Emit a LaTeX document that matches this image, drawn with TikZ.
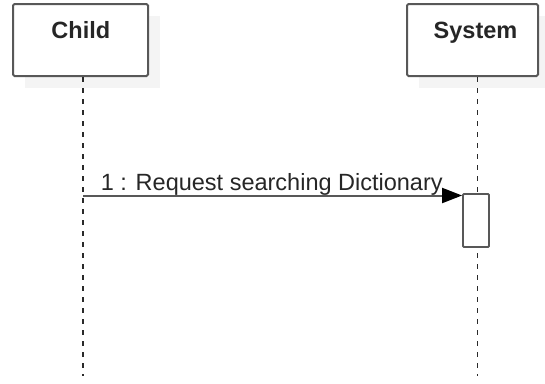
\documentclass[tikz,border=0pt]{standalone}
\usepackage{fontspec}
\setmainfont{Liberation Sans}
\usetikzlibrary{arrows.meta}
\definecolor{edge}{HTML}{585858}
\definecolor{shade}{HTML}{F4F4F4}
\definecolor{lifeink}{HTML}{2A2A2A}
\begin{document}
\begin{tikzpicture}[x=1pt,y=-1pt,
  actorbox/.style={draw=edge,line width=2pt,fill=white,rounded corners=1.5pt,
    minimum height=72pt,inner sep=0pt},
  actorshadow/.style={fill=shade,draw=none},
  actorname/.style={anchor=base,inner sep=0pt,font=\fontsize{23.5}{28}\selectfont\bfseries,text=black!85},
  lifeline/.style={draw=lifeink,line width=1.8pt,dash pattern=on 5pt off 6pt},
  actbar/.style={draw=edge,line width=1.8pt,fill=white,rounded corners=1pt,
    minimum width=26pt,minimum height=53pt,inner sep=0pt},
  msgline/.style={draw=edge,line width=2pt,-{Triangle[length=20pt,width=15pt,fill=black,color=black]}},
  msgtext/.style={anchor=base west,inner sep=0pt,font=\fontsize{23.5}{28}\selectfont,text=black!85}]
\useasboundingbox (0,0) rectangle (545,383);

% drop shadows behind the two actor boxes
\fill[actorshadow] (25,16) rectangle (160,88);
\fill[actorshadow] (419,16) rectangle (550,88);

% actors
\node[actorbox,minimum width=135pt] (child) at (80.5,40) {};
\node[actorbox,minimum width=131pt] (system) at (472.5,40) {};
\node[actorname] (childname) at (80.8,38) {Child};
\node[actorname] (systemname) at (475.5,38) {System};

% lifeline ends
\coordinate (childtop) at (83,77);
\coordinate (childend) at (83,376);
\coordinate (systop) at (477.5,77);
\coordinate (sysend) at (477.5,376);
\draw[lifeline] (childtop) -- (childend);
\draw[lifeline] (systop) -- (sysend);

% activation bar on the System lifeline
\node[actbar] (act) at (476,220.5) {};

% synchronous message
\coordinate (m1) at (83,195.5);
\draw[msgline] (m1) -- (m1 -| act.west);
\node[msgtext] (m1label) at (100.7,190) {1 : Request searching Dictionary};
\end{tikzpicture}
\end{document}
